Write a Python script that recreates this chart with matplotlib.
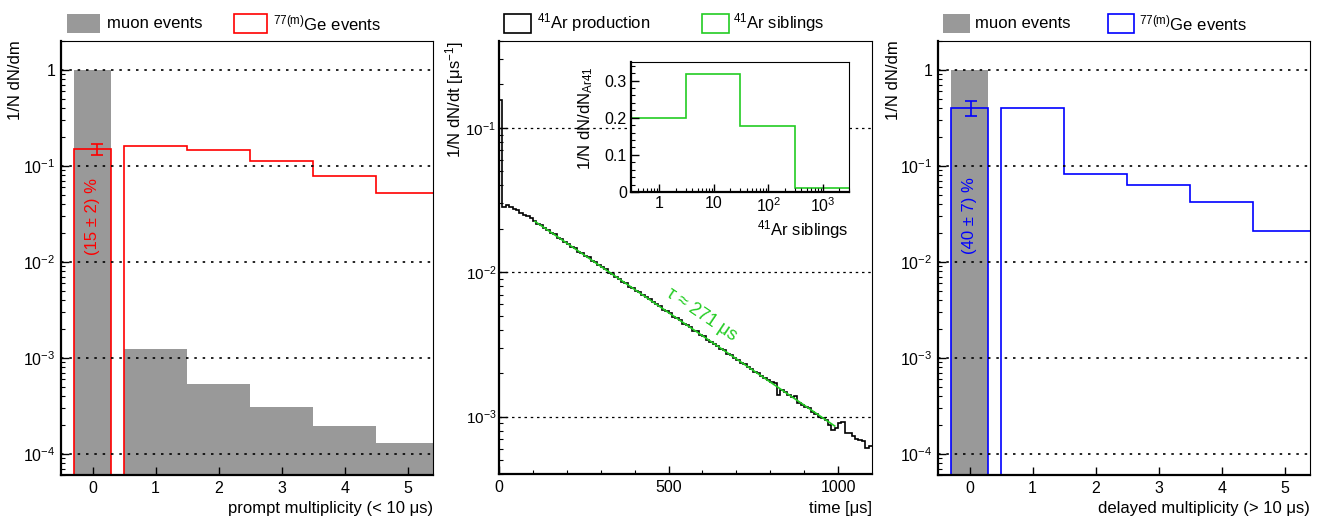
import numpy as np
import matplotlib
matplotlib.use('Agg')
import matplotlib.pyplot as plt
from matplotlib.patches import Rectangle
from matplotlib.ticker import FixedLocator, LogLocator, FuncFormatter, NullFormatter

plt.rcParams['font.family'] = ['Liberation Sans', 'DejaVu Sans']
plt.rcParams['mathtext.fontset'] = 'custom'
plt.rcParams['mathtext.rm'] = 'Liberation Sans'
plt.rcParams['mathtext.it'] = 'Liberation Sans:italic'
plt.rcParams['mathtext.bf'] = 'Liberation Sans:bold'
plt.rcParams['mathtext.default'] = 'regular'

# ---------------- data ----------------
mult_edges = [-0.3, 0.3, 0.5, 1.5, 2.5, 3.5, 4.5, 5.5]
mult_ticks = [0, 1, 2, 3, 4, 5]
muon_prompt = [1.0, 0.0, 1.23e-3, 5.35e-4, 3.05e-4, 1.95e-4, 1.30e-4]
ge_prompt = [0.15, 0.0, 0.162, 0.148, 0.111, 0.0775, 0.0527]
muon_delayed = [1.0, 0.0, 0.0, 0.0, 0.0, 0.0, 0.0]
ge_delayed = [0.40, 0.0, 0.40, 0.083, 0.0624, 0.0418, 0.0209]
prompt_x, prompt_frac, prompt_err = 0.07, 0.15, 0.02
delayed_x, delayed_frac, delayed_err = 0.02, 0.40, 0.07
prompt_label = "(15 ± 2) %"
delayed_label = "(40 ± 7) %"

time_bin_width = 10
ar41_rate = [
    0.156, 0.0285, 0.0291, 0.0282, 0.0273, 0.0268, 0.0259, 0.0251, 0.0244, 0.0236,
    0.0227, 0.0216, 0.0211, 0.0201, 0.0196, 0.0187, 0.0183, 0.0173, 0.0169, 0.0162,
    0.0158, 0.0149, 0.0147, 0.0139, 0.0136, 0.0129, 0.0127, 0.0119, 0.0118, 0.0112,
    0.0108, 0.0105, 0.0099, 0.0097, 0.0093, 0.0090, 0.0086, 0.0084, 0.0079, 0.0078,
    0.0074, 0.0073, 0.0069, 0.0067, 0.0065, 0.0062, 0.0060, 0.0058, 0.0055, 0.0054,
    0.0052, 0.0049, 0.0048, 0.0047, 0.0044, 0.0043, 0.0042, 0.0039, 0.0039, 0.0037,
    0.0036, 0.0034, 0.0033, 0.0032, 0.0031, 0.00295, 0.00288, 0.00273, 0.00268, 0.00255,
    0.00248, 0.00236, 0.00230, 0.00219, 0.00214, 0.00205, 0.00199, 0.00190, 0.00184, 0.00178,
    0.00174, 0.00172, 0.00142, 0.00152, 0.00149, 0.00140, 0.00137, 0.00138, 0.00125, 0.00121,
    0.00116, 0.00115, 0.00108, 0.00105, 0.00100, 0.00097, 0.00094, 0.00088, 0.00081, 0.00083,
    0.00090, 0.00091, 0.00077, 0.00077, 0.00073, 0.00070, 0.00069, 0.00068, 0.00061, 0.00063,
]
time_edges = np.arange(len(ar41_rate) + 1) * time_bin_width
fit_t = [106, 990]
fit_rate = [0.0225, 8.6e-4]
fit_label = "τ ≈ 271 μs"

sib_edges = [0.3, 3, 30, 300, 3000]
sib_frac = [0.20, 0.318, 0.178, 0.011]

# ---------------- style ----------------
W, H = 1321, 522
GRAY = '#999999'
RED = '#ff0000'
BLUE = '#0000ff'
GREEN = '#22cc22'
FS = 12
TFS = 11.5
FLOOR = 1e-9

fig = plt.figure(figsize=(W / 100, H / 100), dpi=100)


def fx(x):
    return x / W


def fy(y):
    return 1 - y / H


def add_axes_px(x0, y0, x1, y1):
    return fig.add_axes([fx(x0), fy(y1), fx(x1) - fx(x0), (y1 - y0) / H])


def style(ax):
    for s in ['left', 'bottom']:
        ax.spines[s].set_linewidth(1.6)
    for s in ['top', 'right']:
        ax.spines[s].set_linewidth(0.8)
    ax.tick_params(which='both', direction='in', top=False, right=False,
                   labelsize=TFS, pad=4)
    ax.tick_params(which='major', length=6, width=1)
    ax.tick_params(which='minor', length=3, width=0.8)


def logfmt(v, pos):
    e = int(round(np.log10(v)))
    if e == 0:
        return '1'
    if e == 1:
        return '10'
    return r'$10^{%d}$' % e


def floor(vals):
    v = np.asarray(vals, dtype=float)
    return np.where(v > 0, v, FLOOR)


def mult_panel(ax, muon, ge, col, ex, frac, err, label):
    ax.set_yscale('log')
    ax.stairs(floor(muon), mult_edges, baseline=FLOOR, fill=True, color=GRAY, lw=0)
    ax.stairs(floor(ge), mult_edges, baseline=FLOOR, color=col, lw=1.2)
    ax.errorbar([ex], [frac], yerr=[[err], [err]], color=col, lw=1.2,
                capsize=4, capthick=1.2, fmt='none')
    ax.set_xlim(-0.5, 5.4)
    ax.set_ylim(6e-5, 2.0)
    ax.xaxis.set_major_locator(FixedLocator(mult_ticks))
    ax.yaxis.set_major_locator(LogLocator(base=10, numticks=10))
    ax.yaxis.set_minor_locator(LogLocator(base=10, subs=np.arange(2, 10), numticks=20))
    ax.yaxis.set_major_formatter(FuncFormatter(logfmt))
    ax.yaxis.set_minor_formatter(NullFormatter())
    ax.grid(axis='y', which='major', color='k', lw=1.2, ls=(0, (1.5, 3.5)))
    ax.set_axisbelow(False)
    ax.text(0.0, 0.03, label, color=col, rotation=90, ha='center', va='center',
            fontsize=FS)
    style(ax)


# ---- left panel ----
axL = add_axes_px(61, 41, 433, 475)
mult_panel(axL, muon_prompt, ge_prompt, RED, prompt_x, prompt_frac, prompt_err,
           prompt_label)

# ---- right panel ----
axR = add_axes_px(938, 41, 1310, 475)
mult_panel(axR, muon_delayed, ge_delayed, BLUE, delayed_x, delayed_frac, delayed_err,
           delayed_label)

# ---- middle panel ----
axM = add_axes_px(499, 41, 872, 474)
axM.set_yscale('log')
axM.stairs(ar41_rate, time_edges, baseline=None, color='k', lw=1.2)
axM.plot(fit_t, fit_rate, color=GREEN, lw=1.2)
axM.set_xlim(0, 1100)
axM.set_ylim(4e-4, 0.4)
axM.xaxis.set_major_locator(FixedLocator([0, 500, 1000]))
axM.xaxis.set_minor_locator(FixedLocator(np.arange(100, 1100, 100)))
axM.yaxis.set_major_locator(LogLocator(base=10, numticks=10))
axM.yaxis.set_minor_locator(LogLocator(base=10, subs=np.arange(2, 10), numticks=20))
axM.yaxis.set_major_formatter(FuncFormatter(logfmt))
axM.yaxis.set_minor_formatter(NullFormatter())
axM.grid(axis='y', which='major', color='k', lw=0.9, ls=(0, (2, 3)))
style(axM)
axM.tick_params(axis='y', pad=2, labelsize=11)
axM.text(598, 5.1e-3, fit_label, color=GREEN, rotation=-34, rotation_mode='anchor',
         ha='center', va='center', fontsize=FS + 1)

# ---- inset ----
axI = add_axes_px(631, 62, 849, 192)
axI.set_xscale('log')
axI.stairs(sib_frac, sib_edges, baseline=None, color=GREEN, lw=1.2)
axI.set_xlim(0.3, 3000)
axI.set_ylim(0, 0.35)
axI.xaxis.set_major_locator(FixedLocator([1, 10, 100, 1000]))
axI.xaxis.set_major_formatter(FuncFormatter(
    lambda v, p: '1' if v == 1 else ('10' if v == 10 else r'$10^{%d}$' % int(round(np.log10(v))))))
axI.xaxis.set_minor_locator(LogLocator(base=10, subs=np.arange(2, 10), numticks=20))
axI.xaxis.set_minor_formatter(NullFormatter())
axI.yaxis.set_major_locator(FixedLocator([0, 0.1, 0.2, 0.3]))
axI.yaxis.set_major_formatter(FuncFormatter(lambda v, p: '0' if v == 0 else '%.1f' % v))
axI.yaxis.set_minor_locator(FixedLocator(np.arange(0.02, 0.35, 0.02)))
style(axI)
axI.tick_params(labelsize=TFS, pad=3)

# ---------------- labels ----------------
fig.text(fx(16), fy(40), "1/N dN/dm", rotation=90, ha='center', va='top', fontsize=FS)
fig.text(fx(893), fy(40), "1/N dN/dm", rotation=90, ha='center', va='top', fontsize=FS)
fig.text(fx(455), fy(41), r"1/N dN/dt [μs$^{-1}$]", rotation=90, ha='center', va='top',
         fontsize=FS)
fig.text(fx(433), fy(509), "prompt multiplicity (< 10 μs)", ha='right', va='center',
         fontsize=FS)
fig.text(fx(872), fy(509), "time [μs]", ha='right', va='center', fontsize=FS)
fig.text(fx(1310), fy(509), "delayed multiplicity (> 10 μs)", ha='right', va='center',
         fontsize=FS)
fig.text(fx(586), fy(66), r"1/N dN/dN$_{Ar41}$", rotation=90, ha='center', va='top',
         fontsize=FS)
fig.text(fx(849), fy(230), r"$^{41}$Ar siblings", ha='right', va='center', fontsize=FS)


# ---------------- legends ----------------
def legend_box(x0, x1, fc, ec, text, tx):
    fig.add_artist(Rectangle((fx(x0), fy(32.5)), fx(x1) - fx(x0), 19 / H,
                             transform=fig.transFigure, fc=fc, ec=ec, lw=1.2))
    fig.text(fx(tx), fy(23), text, ha='left', va='center', fontsize=FS)


legend_box(67, 100, GRAY, 'none', "muon events", 107)
legend_box(234, 267, 'white', RED, r"$^{77(m)}$Ge events", 273)
legend_box(504, 531, 'white', 'k', r"$^{41}$Ar production", 537)
legend_box(702, 729, 'white', GREEN, r"$^{41}$Ar siblings", 733)
legend_box(943, 970, GRAY, 'none', "muon events", 975)
legend_box(1108, 1134, 'white', BLUE, r"$^{77(m)}$Ge events", 1139)

fig.savefig('out.png', dpi=100)
